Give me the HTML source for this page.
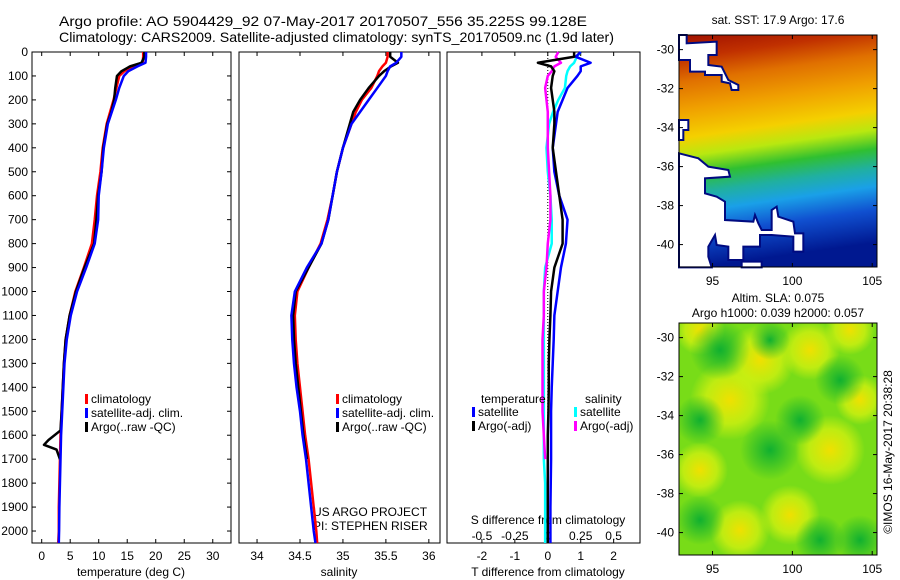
<!DOCTYPE html>
<html><head><meta charset="utf-8"><style>
body{margin:0;background:#fff}
svg{display:block;font-family:"Liberation Sans",sans-serif}
</style></head><body>
<svg id="c" width="900" height="580" viewBox="0 0 900 580">
<defs>
<linearGradient id="sst" x1="0" y1="0" x2="0.12" y2="1">
<stop offset="0" stop-color="#a01000"/><stop offset="0.1" stop-color="#c03000"/>
<stop offset="0.2" stop-color="#e07000"/><stop offset="0.32" stop-color="#f0a000"/>
<stop offset="0.44" stop-color="#f4d000"/><stop offset="0.52" stop-color="#b8e810"/>
<stop offset="0.6" stop-color="#30c030"/><stop offset="0.68" stop-color="#20b0a0"/>
<stop offset="0.76" stop-color="#1aa0e8"/><stop offset="0.86" stop-color="#1050d0"/>
<stop offset="1" stop-color="#001890"/>
</linearGradient>
<radialGradient id="yb"><stop offset="0" stop-color="#f0e000"/><stop offset="0.6" stop-color="#d0f010" stop-opacity="0.8"/><stop offset="1" stop-color="#d0f010" stop-opacity="0"/></radialGradient>
<radialGradient id="gb"><stop offset="0" stop-color="#10b030"/><stop offset="1" stop-color="#10b030" stop-opacity="0"/></radialGradient>
<clipPath id="slaclip"><rect x="679" y="323" width="198" height="232"/></clipPath>
</defs>
<text x="59" y="26" font-size="14" textLength="528" lengthAdjust="spacingAndGlyphs">Argo profile: AO 5904429_92 07-May-2017 20170507_556 35.225S 99.128E</text>
<text x="59" y="42" font-size="14" textLength="555" lengthAdjust="spacingAndGlyphs">Climatology: CARS2009. Satellite-adjusted climatology: synTS_20170509.nc (1.9d later)</text>
<g id="g"></g>
</svg>
<script>
// ---- data ----
const depthTicks=[0,100,200,300,400,500,600,700,800,900,1000,1100,1200,1300,1400,1500,1600,1700,1800,1900,2000];
const tempTicks=[0,5,10,15,20,25,30];
const salTicks=[34,34.5,35,35.5,36];
const tdTicks=[-2,-1,0,1,2];
const sdTicks=[-0.5,-0.25,0,0.25,0.5];
const sdTickLabels=["-0.5","-0.25","0","0.25","0.5"];
const depths=[0,20,45,60,80,100,150,200,250,300,400,500,600,700,800,900,1000,1100,1200,1300,1400,1500,1600,1700,1800,1900,2000,2050];
const tClim=[17.8,17.8,17.7,16.0,14.5,13.6,13.1,12.6,12.0,11.4,10.7,10.3,9.7,9.3,8.8,7.4,5.9,4.9,4.2,3.9,3.7,3.5,3.3,3.2,3.1,3.0,3.0,2.9];
const tSat=[18.3,18.3,18.2,16.8,15.2,14.4,13.6,13.0,12.3,11.6,10.9,10.5,10.0,9.9,9.3,7.8,6.2,5.1,4.4,4.0,3.8,3.6,3.4,3.3,3.2,3.1,3.05,3.0];
const tArgoD=[0,20,45,60,80,100,150,200,250,300,400,500,600,700,800,900,1000,1100,1200,1300,1400,1500,1580,1620,1640,1660,1700];
const tArgo=[18.0,18.0,17.5,15.5,14.0,13.2,12.9,12.7,12.2,11.5,10.8,10.5,9.9,9.6,9.2,7.5,6.0,4.9,4.2,3.9,3.7,3.5,3.3,1.2,0.4,2.6,3.2];
const sClim=[35.52,35.52,35.5,35.46,35.42,35.4,35.33,35.22,35.15,35.1,35.0,34.93,34.88,34.82,34.74,34.6,34.47,34.44,34.45,34.47,34.5,34.53,34.56,34.6,34.63,34.66,34.69,34.7];
const sSat=[35.68,35.68,35.62,35.55,35.52,35.5,35.4,35.3,35.2,35.1,35.0,34.93,34.88,34.83,34.75,34.58,34.44,34.4,34.41,34.43,34.46,34.5,34.53,34.57,34.6,34.63,34.66,34.68];
const sArgoD=[0,20,45,60,80,100,150,200,250,300,400,500,600,700,800,900,1000,1100,1200,1300,1400,1500,1600,1700];
const sArgo=[35.55,35.55,35.64,35.56,35.48,35.42,35.3,35.2,35.12,35.08,35.0,34.93,34.88,34.83,34.75,34.6,34.45,34.42,34.43,34.45,34.48,34.51,34.54,34.58];
const dTsat=[1.0,0.85,1.3,1.0,1.0,0.9,0.6,0.45,0.3,0.25,0.15,0.2,0.35,0.6,0.55,0.4,0.3,0.2,0.18,0.15,0.12,0.1,0.1,0.1,0.09,0.08,0.08,0.08];
const dTargo=[0.8,0.8,-0.3,0.1,0.2,0.15,0.1,0.15,0.2,0.2,0.15,0.25,0.35,0.45,0.45,0.2,0.1,0.08,0.05,0.03,0.03,0.02,0.0,0.0,0.0,0.0,0.0,0.0];
const dSsat=[0.25,0.22,0.2,0.17,0.15,0.14,0.13,0.08,0.04,0.01,-0.01,0.0,0.02,0.03,0.03,-0.02,-0.03,-0.03,-0.03,-0.03,-0.03,-0.03,-0.03,-0.03,-0.02,-0.02,-0.02,-0.02];
const dSargo=[0.08,0.06,0.1,0.05,0.03,0.0,-0.02,-0.01,0.0,0.0,0.0,0.01,0.02,0.02,0.0,-0.01,-0.03,-0.03,-0.04,-0.04,-0.04,-0.04,-0.03,-0.02];
const lonTicks=[95,100,105];
const latTicks=[-30,-32,-34,-36,-38,-40];
// ---- layout ----
const NS="http://www.w3.org/2000/svg";
const G=document.getElementById('g');
function mk(tag,attrs,parent){const e=document.createElementNS(NS,tag);for(const k in attrs)e.setAttribute(k,attrs[k]);(parent||G).appendChild(e);return e;}
const yTop=52,yBot=543;
const yD=d=>yTop+d*(yBot-yTop)/2050;
const panels=[
 {x0:32,x1:231,vmin:-1.7,vmax:33.2,name:'temperature'},
 {x0:239,x1:440,vmin:33.79,vmax:36.13,name:'salinity'},
 {x0:447,x1:640,vmin:-3.06,vmax:2.8,name:'difference'}];
panels.forEach(p=>{p.sx=v=>p.x0+(v-p.vmin)*(p.x1-p.x0)/(p.vmax-p.vmin);});
panels.forEach((p,i)=>{
 const r=mk('rect',{x:p.x0,y:yTop,width:p.x1-p.x0,height:yBot-yTop,fill:'none',stroke:'#000','stroke-width':1});
 
 
});
depthTicks.forEach(d=>{
 mk('line',{x1:32,x2:36,y1:yD(d),y2:yD(d),stroke:'#000'});
 mk('line',{x1:227,x2:231,y1:yD(d),y2:yD(d),stroke:'#000'});
 const t=mk('text',{x:28,y:yD(d)+4,'font-size':12,'text-anchor':'end'});t.textContent=d;
 
 
});
function xaxis(p,ticks,labels,ty){
 ticks.forEach((v,i)=>{
  mk('line',{x1:p.sx(v),x2:p.sx(v),y1:yBot,y2:yBot-4,stroke:'#000'});
  mk('line',{x1:p.sx(v),x2:p.sx(v),y1:yTop,y2:yTop+4,stroke:'#000'});
  const t=mk('text',{x:p.sx(v),y:ty,'font-size':12,'text-anchor':'middle'});t.textContent=labels?labels[i]:v;
  
  
 });
}
xaxis(panels[0],tempTicks,null,560);
xaxis(panels[1],salTicks,null,560);
xaxis(panels[2],tdTicks,null,560);
const sdP={sx:v=>panels[2].sx(v*4),name:'s-difference'};
sdTicks.forEach((v,i)=>{const t=mk('text',{x:sdP.sx(v),y:540,'font-size':12,'text-anchor':'middle'});t.textContent=sdTickLabels[i];
 
 });
function label(x,y,s,name,anchor,size){const t=mk('text',{x:x,y:y,'font-size':size||12,'text-anchor':anchor||'middle'});t.textContent=s;
 
 return t;}
label(131,576,'temperature (deg C)','temperature-axis-title');
label(339,576,'salinity','salinity-axis-title');
label(548,576,'T difference from climatology','t-difference-axis-title');
label(548,524,'S difference from climatology','s-difference-axis-title');
label(313,516,'US ARGO PROJECT','project-label','start');
label(313,530,'PI: STEPHEN RISER','pi-label','start');
mk('line',{x1:panels[2].sx(0),x2:panels[2].sx(0),y1:yTop,y2:yBot,stroke:'#000','stroke-dasharray':'1,2'});
function line(p,vals,ds,color,name,scale){
 const pts=vals.map((v,i)=>p.sx(v*(scale||1))+','+yD(ds[i])).join(' ');
 const l=mk('polyline',{points:pts,fill:'none',stroke:color,'stroke-width':2.5,'stroke-linejoin':'round'});
 
 
}
const P=panels;
line(P[0],tClim,depths,'#f00','temperature-climatology-line');
line(P[0],tArgo,tArgoD,'#000','temperature-argo-line');
line(P[0],tSat,depths,'#00f','temperature-satellite-line');
line(P[1],sClim,depths,'#f00','salinity-climatology-line');
line(P[1],sArgo,sArgoD,'#000','salinity-argo-line');
line(P[1],sSat,depths,'#00f','salinity-satellite-line');
line(P[2],dSsat,depths,'#0ff','s-diff-satellite-line',4);
line(P[2],dSargo,sArgoD,'#f0f','s-diff-argo-line',4);
line(P[2],dTsat,depths,'#00f','t-diff-satellite-line');
line(P[2],dTargo,depths,'#000','t-diff-argo-line');
function leg(x,y,color,txt,name){
 const r=mk('rect',{x:x,y:y-9,width:3,height:10,fill:color});
 
 
 label(x+6,y,txt,name,'start');
}
[[85,'climatology','#f00'],[85,'satellite-adj. clim.','#00f'],[85,'Argo(..raw -QC)','#000']].forEach((e,i)=>leg(e[0],403+14*i,e[2],e[1],'legend-entry-temp'));
[[336,'climatology','#f00'],[336,'satellite-adj. clim.','#00f'],[336,'Argo(..raw -QC)','#000']].forEach((e,i)=>leg(e[0],403+14*i,e[2],e[1],'legend-entry-sal'));
label(481,403,'temperature','legend-temperature-heading','start');
label(585,403,'salinity','legend-salinity-heading','start');
leg(472,416,'#00f','satellite','legend-t-satellite');
leg(472,430,'#000','Argo(-adj)','legend-t-argo');
leg(574,416,'#0ff','satellite','legend-s-satellite');
leg(574,430,'#f0f','Argo(-adj)','legend-s-argo');
const maps=[{x0:679,x1:877,y0:35,y1:267,name:'sst-map'},{x0:679,x1:877,y0:323,y1:555,name:'sla-map'}];
maps.forEach(m=>{m.sx=v=>m.x0+(v-92.9)*(m.x1-m.x0)/(105.3-92.9);m.sy=v=>m.y0+(-29.25-v)*(m.y1-m.y0)/(41.15-29.25);});
const m0=maps[0],m1=maps[1];
let rr=mk('rect',{x:m0.x0,y:m0.y0,width:198,height:232,fill:'url(#sst)'});


// land mask outlines traced in zoom coordinates (3x crop at 675,30)
const white=[
 [[12,15],[35,15],[35,40],[125,35],[125,75],[100,75],[100,105],[140,110],[160,150],[190,165],[190,180],[170,180],[165,160],[140,155],[140,135],[90,135],[90,125],[45,125],[45,90],[12,90]],
 [[12,270],[40,270],[40,300],[25,300],[25,330],[12,330]],
 [[12,370],[70,385],[100,410],[160,420],[165,440],[90,445],[90,490],[125,500],[150,515],[150,570],[235,575],[240,555],[250,580],[260,600],[290,600],[290,540],[305,530],[310,560],[355,575],[360,610],[385,610],[385,665],[355,665],[355,620],[290,615],[255,615],[255,650],[205,650],[205,690],[160,690],[160,650],[125,645],[120,615],[100,650],[100,680],[110,712],[12,712]],
 [[200,695],[260,695],[260,712],[200,712]]];
white.forEach(pg=>{const e=mk('polygon',{points:pg.map(p=>(p[0]/3+675)+','+(p[1]/3+30)).join(' '),fill:'#fff',stroke:'#000a80','stroke-width':2,'stroke-linejoin':'miter'});
 
 });
const sg=mk('g',{'clip-path':'url(#slaclip)'});
rr=mk('rect',{x:m1.x0,y:m1.y0,width:198,height:232,fill:'#78dc18'},sg);


[[730,400,40],[760,360,35],[830,450,35],[810,350,30],[740,530,30],[790,515,30],[850,330,25],[700,470,28],[860,400,25],[700,330,25]].forEach(b=>{
 const c=mk('circle',{cx:b[0],cy:b[1],r:b[2],fill:'url(#yb)'},sg);});
[[720,350,30],[770,450,30],[800,420,25],[860,540,25],[700,520,25],[820,540,25],[770,340,20],[840,380,25],[700,420,25]].forEach(b=>{
 const c=mk('circle',{cx:b[0],cy:b[1],r:b[2],fill:'url(#gb)'},sg);});
maps.forEach(m=>{
 const f=mk('rect',{x:m.x0,y:m.y0,width:m.x1-m.x0,height:m.y1-m.y0,fill:'none',stroke:'#000'});
 
 
 lonTicks.forEach(v=>{mk('line',{x1:m.sx(v),x2:m.sx(v),y1:m.y1,y2:m.y1-4,stroke:'#000'});mk('line',{x1:m.sx(v),x2:m.sx(v),y1:m.y0,y2:m.y0+4,stroke:'#000'});
  label(m.sx(v),m.y1+18,v,m.name+'-lon-label');});
 latTicks.forEach(v=>{mk('line',{x1:m.x0,x2:m.x0+4,y1:m.sy(v),y2:m.sy(v),stroke:'#000'});mk('line',{x1:m.x1,x2:m.x1-4,y1:m.sy(v),y2:m.sy(v),stroke:'#000'});
  label(m.x0-5,m.sy(v)+4,v,m.name+'-lat-label','end');});
});
label(778,24,'sat. SST: 17.9 Argo: 17.6','sst-map-title');
label(778,302,'Altim. SLA: 0.075','sla-map-title');
label(778,317,'Argo h1000: 0.039 h2000: 0.057','sla-map-subtitle');
const im=label(0,0,'©IMOS 16-May-2017 20:38:28','imos-timestamp');
im.setAttribute('transform','translate(892,452) rotate(-90)');
</script>
</body></html>
